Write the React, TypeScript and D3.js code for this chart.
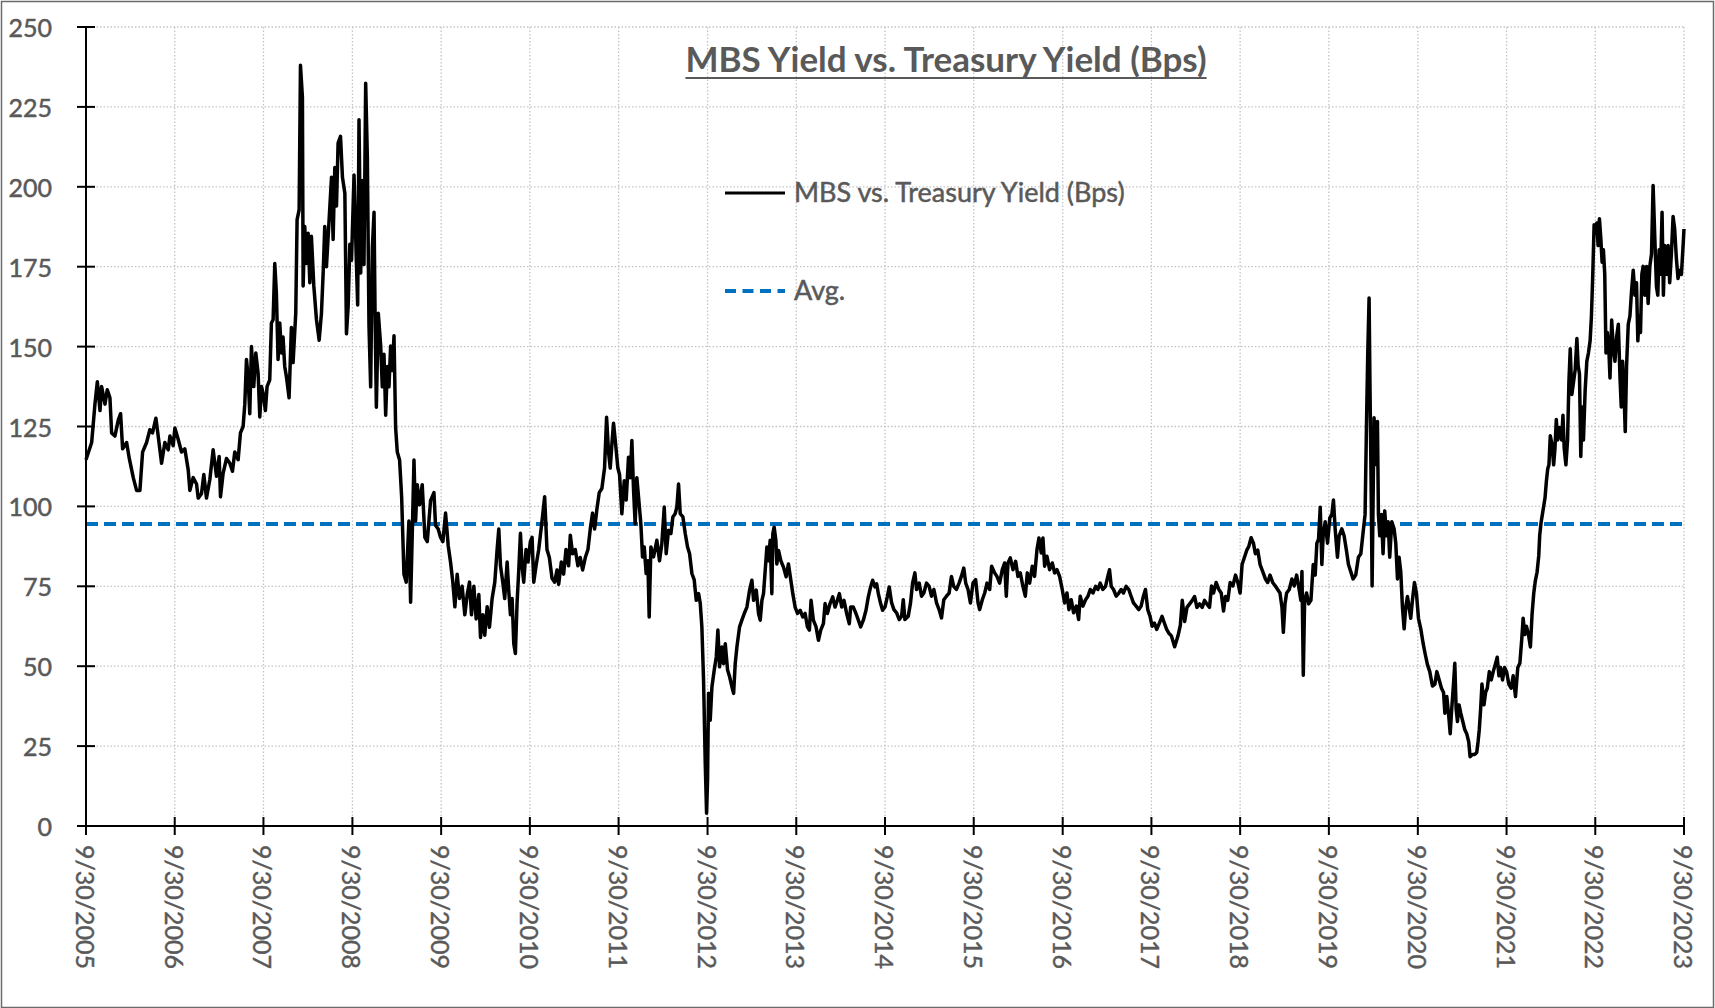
import React, { useEffect, useRef } from "react";
import * as d3 from "d3";

// tick labels
const yTicks = [0, 25, 50, 75, 100, 125, 150, 175, 200, 225, 250];
const xTickLabels = [
  "9/30/2005", "9/30/2006", "9/30/2007", "9/30/2008", "9/30/2009", "9/30/2010",
  "9/30/2011", "9/30/2012", "9/30/2013", "9/30/2014", "9/30/2015", "9/30/2016",
  "9/30/2017", "9/30/2018", "9/30/2019", "9/30/2020", "9/30/2021", "9/30/2022",
  "9/30/2023",
];

// average of the spread (bps)
const avgSpread = 94.5;

// [decimal year, spread in bps]
const spread2005to2008: [number, number][] = [
  [2005.745, 114.6], [2005.809, 120], [2005.846, 132], [2005.873, 139], [2005.903, 130], [2005.921, 137.5],
  [2005.959, 132], [2005.985, 136.5], [2006.015, 134], [2006.034, 123], [2006.071, 122], [2006.109, 127],
  [2006.135, 129], [2006.158, 118], [2006.203, 120], [2006.233, 115], [2006.278, 109], [2006.315, 105],
  [2006.353, 105], [2006.383, 117], [2006.428, 120], [2006.465, 124], [2006.495, 123], [2006.533, 127.6],
  [2006.559, 122], [2006.597, 113.5], [2006.634, 120], [2006.672, 117.7], [2006.691, 122], [2006.728, 119],
  [2006.747, 124.5], [2006.784, 121], [2006.822, 117], [2006.859, 118], [2006.897, 111.5], [2006.916, 105],
  [2006.953, 109], [2006.991, 107], [2007.01, 102.6], [2007.047, 104], [2007.073, 110], [2007.103, 102.6],
  [2007.141, 108.4], [2007.178, 117.7], [2007.216, 109.4], [2007.246, 115.6], [2007.261, 103], [2007.291, 110.4],
  [2007.329, 115], [2007.366, 113.5], [2007.396, 111], [2007.422, 117], [2007.46, 114.6], [2007.486, 123],
  [2007.516, 125], [2007.535, 132], [2007.554, 146], [2007.572, 140.6], [2007.591, 129], [2007.61, 150],
  [2007.636, 137.5], [2007.659, 148], [2007.685, 141.7], [2007.704, 128], [2007.723, 137.5], [2007.741, 135.4],
  [2007.767, 130], [2007.786, 137.5], [2007.816, 139.6], [2007.835, 157.4], [2007.854, 158.4], [2007.873, 176],
  [2007.891, 166.7], [2007.91, 146], [2007.929, 157.4], [2007.948, 148], [2007.966, 153], [2007.985, 143.8],
  [2008.004, 140.6], [2008.034, 134], [2008.06, 156], [2008.079, 145], [2008.109, 160.5], [2008.124, 189.7],
  [2008.147, 192.8], [2008.162, 238], [2008.184, 228], [2008.192, 169], [2008.21, 187.6], [2008.229, 176],
  [2008.248, 185.5], [2008.267, 170], [2008.285, 184.5], [2008.312, 169], [2008.342, 158.4], [2008.372, 152],
  [2008.398, 160.5], [2008.417, 173], [2008.435, 187.6], [2008.454, 175], [2008.484, 189.7], [2008.511, 203],
  [2008.529, 183.5], [2008.548, 206], [2008.567, 194], [2008.585, 213.7], [2008.612, 215.8], [2008.634, 203],
  [2008.661, 198], [2008.679, 154], [2008.698, 162.6], [2008.717, 182], [2008.736, 177],
];

const spread2008to2011: [number, number][] = [
  [2008.764, 203.7], [2008.79, 177], [2008.805, 163], [2008.82, 221], [2008.839, 173], [2008.857, 202],
  [2008.876, 175.7], [2008.895, 232.4], [2008.914, 208.8], [2008.932, 156.6], [2008.951, 137.4], [2008.97, 180.8],
  [2008.989, 192], [2009.0, 161.7], [2009.015, 131], [2009.037, 160.4], [2009.064, 150.2], [2009.082, 137.4],
  [2009.101, 147.6], [2009.12, 128.5], [2009.139, 143.8], [2009.157, 137.4], [2009.176, 150.2], [2009.195, 142.5],
  [2009.214, 153.4], [2009.232, 124.7], [2009.251, 117], [2009.277, 114.5], [2009.3, 103], [2009.326, 78.8],
  [2009.352, 76.3], [2009.382, 95.4], [2009.401, 70], [2009.42, 91.6], [2009.439, 114.5], [2009.457, 95.4],
  [2009.476, 106.8], [2009.502, 100.5], [2009.532, 106.8], [2009.562, 90.3], [2009.589, 89], [2009.626, 101.8],
  [2009.664, 104.3], [2009.682, 94.1], [2009.712, 92.9], [2009.739, 90.3], [2009.765, 89], [2009.795, 97.9],
  [2009.825, 87.7], [2009.851, 82.6], [2009.877, 76.3], [2009.9, 68.6], [2009.926, 78.8], [2009.952, 71.2],
  [2009.982, 75], [2010.012, 66.1], [2010.039, 72.4], [2010.065, 76.3], [2010.087, 66.1], [2010.114, 75],
  [2010.14, 64.8], [2010.17, 72.4], [2010.189, 59], [2010.215, 66.1], [2010.237, 59.7], [2010.264, 68.6],
  [2010.29, 62.2], [2010.32, 71.2], [2010.35, 76.3], [2010.376, 86.5], [2010.395, 92.9], [2010.414, 81.4],
  [2010.44, 76.3], [2010.462, 71.2], [2010.489, 82.6], [2010.507, 73.7], [2010.526, 66.1], [2010.545, 71.2],
  [2010.564, 57], [2010.582, 54], [2010.601, 69.8], [2010.62, 80], [2010.639, 91.6], [2010.657, 81.4],
  [2010.676, 76.3], [2010.702, 86.5], [2010.725, 82.6], [2010.751, 89], [2010.77, 90.3], [2010.789, 76.3],
  [2010.815, 81.4], [2010.845, 86.5], [2010.882, 95.4], [2010.912, 103], [2010.938, 86.5], [2010.965, 84],
  [2010.995, 77.5], [2011.025, 76.3], [2011.051, 80.1], [2011.07, 75.6], [2011.1, 82.6], [2011.126, 78.8],
  [2011.152, 86.5], [2011.182, 81.4], [2011.201, 91], [2011.227, 85.2], [2011.257, 86.5], [2011.287, 81.4],
  [2011.313, 84], [2011.34, 80.1], [2011.37, 84], [2011.4, 86.5], [2011.426, 92.9], [2011.452, 97.9],
  [2011.475, 92.9], [2011.501, 99.2], [2011.527, 104.3], [2011.557, 105.6], [2011.587, 112], [2011.61, 127.9],
  [2011.632, 117], [2011.651, 112], [2011.67, 119.6], [2011.688, 126], [2011.707, 120.9], [2011.737, 112],
];

const spread2011to2014: [number, number][] = [
  [2011.756, 110], [2011.782, 97.7], [2011.809, 108], [2011.831, 102], [2011.857, 115.4], [2011.876, 109],
  [2011.895, 120.6], [2011.914, 105], [2011.932, 94.6], [2011.951, 109], [2011.97, 103], [2011.996, 94.6],
  [2012.015, 84.2], [2012.034, 87.3], [2012.056, 79], [2012.075, 83], [2012.09, 65.4], [2012.109, 87.3],
  [2012.139, 84.2], [2012.176, 89.4], [2012.206, 83], [2012.232, 88.3], [2012.259, 99.8], [2012.281, 85.2],
  [2012.307, 92.5], [2012.334, 91.5], [2012.356, 96.7], [2012.382, 97.7], [2012.401, 99.8], [2012.42, 107],
  [2012.439, 97.7], [2012.469, 96.7], [2012.495, 91.5], [2012.521, 87.3], [2012.544, 85.2], [2012.57, 79],
  [2012.596, 77], [2012.619, 70.6], [2012.645, 72.7], [2012.664, 69.6], [2012.682, 62.3], [2012.701, 45.6],
  [2012.72, 19.6], [2012.735, 4], [2012.746, 14.4], [2012.757, 41.5], [2012.776, 33.1], [2012.795, 43.5],
  [2012.821, 48.8], [2012.844, 52.9], [2012.862, 61.3], [2012.881, 49.8], [2012.907, 56], [2012.926, 50.8],
  [2012.945, 57], [2012.971, 48.8], [2012.994, 46.7], [2013.02, 43.5], [2013.039, 41.5], [2013.057, 50.8],
  [2013.076, 56], [2013.106, 62.3], [2013.132, 64.4], [2013.159, 66.5], [2013.189, 68.5], [2013.219, 73.8],
  [2013.245, 76.9], [2013.264, 70.6], [2013.294, 73.8], [2013.32, 66.5], [2013.339, 64.4], [2013.358, 70.6],
  [2013.376, 72.7], [2013.395, 80], [2013.414, 87.3], [2013.432, 83], [2013.451, 89.4], [2013.47, 72.7],
  [2013.481, 91.5], [2013.496, 93.5], [2013.515, 89.4], [2013.526, 82], [2013.545, 86.2], [2013.571, 83],
  [2013.601, 81], [2013.631, 78], [2013.657, 82], [2013.684, 76.9], [2013.706, 72.7], [2013.732, 68.5],
  [2013.759, 66.5], [2013.789, 67.5], [2013.819, 65.4], [2013.845, 66.5], [2013.871, 62.3], [2013.893, 61.3],
  [2013.912, 70.6], [2013.938, 64.4], [2013.968, 62.3], [2013.995, 58.1], [2014.021, 61.3], [2014.051, 63.3],
  [2014.07, 69.6], [2014.096, 66.5], [2014.126, 69.6], [2014.156, 71.7], [2014.182, 68.5], [2014.208, 70.6],
  [2014.231, 72.7], [2014.257, 68.5], [2014.283, 70.6], [2014.313, 66.5], [2014.343, 63.3], [2014.358, 68.5],
  [2014.388, 68.5], [2014.418, 66.5], [2014.445, 64.4], [2014.471, 62.3], [2014.501, 64.4], [2014.531, 67.5],
  [2014.557, 71.7], [2014.583, 74.8], [2014.606, 76.9], [2014.632, 74.8], [2014.651, 75.8], [2014.67, 72.7],
  [2014.696, 69.6], [2014.718, 67.5], [2014.745, 68.5], [2014.771, 71.7], [2014.793, 74.8],
];

const spread2014to2017: [number, number][] = [
  [2014.82, 69.8], [2014.846, 67.7], [2014.876, 66.7], [2014.906, 64.6], [2014.932, 65.6], [2014.951, 70.8],
  [2014.97, 64.6], [2015.007, 65.6], [2015.033, 69.8], [2015.056, 76], [2015.082, 79.2], [2015.101, 74],
  [2015.131, 76], [2015.157, 71.9], [2015.183, 72.9], [2015.213, 76], [2015.243, 75], [2015.269, 71.9],
  [2015.296, 74], [2015.326, 69.8], [2015.355, 67.7], [2015.382, 65.1], [2015.408, 70.8], [2015.438, 71.9],
  [2015.468, 72.9], [2015.494, 78.1], [2015.52, 75], [2015.55, 74], [2015.58, 76], [2015.606, 78.1],
  [2015.633, 80.7], [2015.655, 76], [2015.681, 74], [2015.708, 69.8], [2015.737, 76], [2015.767, 77.1],
  [2015.794, 69.8], [2015.812, 67.7], [2015.842, 70.8], [2015.869, 72.9], [2015.895, 76], [2015.925, 74],
  [2015.947, 81.3], [2015.981, 79.2], [2016.007, 78.1], [2016.037, 76], [2016.067, 80.2], [2016.093, 82.3],
  [2016.112, 71.9], [2016.131, 82.3], [2016.157, 83.9], [2016.187, 80.2], [2016.217, 82.8], [2016.243, 78.1],
  [2016.269, 79.2], [2016.299, 75], [2016.326, 71.9], [2016.348, 79.2], [2016.374, 76], [2016.404, 81.3],
  [2016.43, 78.1], [2016.457, 86.5], [2016.479, 90.1], [2016.505, 85.4], [2016.524, 90.1], [2016.543, 81.3],
  [2016.569, 84.4], [2016.599, 80.2], [2016.629, 82.3], [2016.655, 79.2], [2016.681, 80.2], [2016.711, 78.1],
  [2016.741, 74], [2016.767, 69.8], [2016.794, 72.9], [2016.816, 67.7], [2016.842, 70.8], [2016.869, 66.7],
  [2016.899, 68.8], [2016.925, 64.6], [2016.943, 71.9], [2016.973, 68.8], [2017.003, 70.8], [2017.03, 71.9],
  [2017.056, 74], [2017.086, 72.9], [2017.116, 75], [2017.142, 74], [2017.168, 76], [2017.198, 74],
  [2017.228, 75], [2017.254, 78.1], [2017.273, 80.2], [2017.292, 75], [2017.318, 74], [2017.348, 71.9],
  [2017.378, 72.9], [2017.404, 74], [2017.43, 72.9], [2017.46, 75], [2017.49, 74], [2017.516, 71.9],
  [2017.543, 69.8], [2017.573, 68.8], [2017.603, 67.7], [2017.629, 68.8], [2017.655, 71.9], [2017.678, 74],
  [2017.704, 67.7], [2017.73, 65.6], [2017.753, 62.5], [2017.779, 63.5], [2017.805, 61.5], [2017.835, 63.5],
  [2017.865, 65.6], [2017.891, 63.5], [2017.917, 61.5], [2017.94, 60.4],
];

const spread2017to2020: [number, number][] = [
  [2017.97, 59.5], [2018.007, 56.1], [2018.045, 59.5], [2018.071, 62.8], [2018.093, 70.6], [2018.12, 64],
  [2018.146, 68.4], [2018.176, 69.5], [2018.206, 70.6], [2018.232, 71.8], [2018.258, 68.4], [2018.288, 69.5],
  [2018.318, 68.4], [2018.344, 70.6], [2018.37, 69.5], [2018.4, 68.4], [2018.423, 75.1], [2018.445, 72.9],
  [2018.475, 76.2], [2018.505, 74], [2018.532, 72.9], [2018.558, 67.3], [2018.58, 71.8], [2018.606, 70.6],
  [2018.633, 76.2], [2018.663, 75.1], [2018.693, 78.5], [2018.719, 76.2], [2018.745, 72.9], [2018.767, 81.8],
  [2018.794, 84.1], [2018.82, 86.3], [2018.842, 87.4], [2018.869, 90.2], [2018.895, 88.5], [2018.917, 85.2],
  [2018.944, 86.3], [2018.97, 81.8], [2019.0, 79.6], [2019.03, 77.3], [2019.056, 76.2], [2019.082, 78.5],
  [2019.112, 76.2], [2019.142, 75.1], [2019.168, 74], [2019.194, 72.9], [2019.217, 68.4], [2019.232, 60.6],
  [2019.251, 69.5], [2019.269, 72.9], [2019.299, 74], [2019.329, 77.3], [2019.355, 75.1], [2019.382, 78.5],
  [2019.404, 75.1], [2019.43, 70.6], [2019.442, 79.6], [2019.457, 47.2], [2019.472, 70.6], [2019.494, 72.9],
  [2019.517, 69.5], [2019.543, 70.6], [2019.569, 81.8], [2019.591, 78.5], [2019.61, 88.5], [2019.629, 89.7],
  [2019.648, 99.7], [2019.666, 81.8], [2019.681, 90.8], [2019.704, 95.2], [2019.73, 88.5], [2019.756, 96.4],
  [2019.779, 97.5], [2019.797, 102], [2019.816, 93], [2019.842, 84.1], [2019.861, 90.8], [2019.891, 93],
  [2019.917, 90.8], [2019.943, 86.3], [2019.966, 81.8], [2019.992, 79.6], [2020.018, 77.3], [2020.048, 78.5],
  [2020.078, 84.1], [2020.105, 85.2], [2020.131, 91.9], [2020.153, 97.5], [2020.168, 124.3], [2020.183, 147.8],
  [2020.198, 165.2], [2020.209, 135.5], [2020.221, 106.4], [2020.232, 75.1], [2020.243, 102], [2020.254, 127.7],
  [2020.273, 113.1], [2020.292, 126.6], [2020.303, 97.5], [2020.318, 90.8], [2020.337, 97.5], [2020.355, 85.2],
  [2020.374, 98.6], [2020.393, 90.8], [2020.412, 95.2], [2020.43, 84.1], [2020.453, 95.2], [2020.479, 93],
  [2020.498, 88.5], [2020.517, 77.3], [2020.535, 84.1], [2020.554, 79.6], [2020.573, 68.4], [2020.592, 61.7],
  [2020.61, 68.4], [2020.629, 71.8], [2020.648, 68.4], [2020.666, 65], [2020.685, 70.6], [2020.708, 76.2],
  [2020.73, 72.9], [2020.753, 65], [2020.779, 61.7], [2020.805, 57.2], [2020.828, 53.9], [2020.854, 50.5],
  [2020.88, 48.3], [2020.91, 43.8],
];

const spread2020to2023: [number, number][] = [
  [2020.938, 44.4], [2020.96, 48.3], [2020.986, 45.7], [2021.012, 43.1], [2021.035, 41.8], [2021.05, 35.3],
  [2021.072, 40.5], [2021.095, 34], [2021.11, 28.9], [2021.124, 35.3], [2021.147, 44.4], [2021.162, 50.9],
  [2021.177, 36.6], [2021.192, 32.7], [2021.21, 37.9], [2021.229, 35.3], [2021.252, 32.7], [2021.274, 30.2],
  [2021.296, 28.9], [2021.319, 26.3], [2021.334, 21.7], [2021.36, 22.4], [2021.386, 22.4], [2021.409, 23],
  [2021.424, 26.3], [2021.438, 30.2], [2021.453, 36.6], [2021.468, 44.4], [2021.491, 37.9], [2021.509, 41.8],
  [2021.528, 43.1], [2021.551, 48.3], [2021.573, 45.7], [2021.595, 48.3], [2021.622, 50.9], [2021.64, 52.8],
  [2021.659, 47], [2021.678, 49.6], [2021.7, 45.7], [2021.723, 49.6], [2021.745, 48.3], [2021.771, 44.4],
  [2021.797, 43.1], [2021.82, 47], [2021.846, 40.5], [2021.872, 49.6], [2021.895, 50.9], [2021.917, 58.6],
  [2021.932, 65], [2021.951, 59.9], [2021.969, 62.5], [2021.992, 59.9], [2022.014, 56], [2022.033, 66.4],
  [2022.052, 72.9], [2022.07, 76.8], [2022.089, 79.4], [2022.108, 84.5], [2022.119, 91], [2022.134, 94.9],
  [2022.149, 97.5], [2022.164, 100.1], [2022.179, 102.7], [2022.194, 107.8], [2022.209, 111.7], [2022.223, 113],
  [2022.238, 122.1], [2022.257, 119.5], [2022.276, 113], [2022.291, 118.2], [2022.306, 127.2], [2022.321, 120.8],
  [2022.343, 124.7], [2022.366, 120.8], [2022.381, 128.5], [2022.395, 118.2], [2022.414, 113], [2022.433, 120.8],
  [2022.448, 138.9], [2022.463, 149.3], [2022.481, 135], [2022.5, 138.9], [2022.519, 142.8], [2022.538, 152.5],
  [2022.552, 144.1], [2022.567, 141.5], [2022.582, 115.6], [2022.597, 131.1], [2022.612, 120.8], [2022.631, 136.3],
  [2022.65, 145.4], [2022.668, 148], [2022.687, 151.8], [2022.702, 159.6], [2022.717, 172.6], [2022.732, 188.1],
  [2022.747, 185.5], [2022.762, 188.7], [2022.777, 181.6], [2022.792, 190], [2022.807, 184.2], [2022.822, 176.4],
  [2022.837, 180.3], [2022.852, 172.6], [2022.866, 148], [2022.881, 154.4], [2022.896, 150.5], [2022.911, 140.2],
  [2022.93, 158.3], [2022.949, 149.3], [2022.967, 145.4], [2022.986, 153.1], [2023.005, 157], [2023.024, 140.2],
  [2023.038, 131.1], [2023.053, 145.4], [2023.068, 136.3], [2023.083, 123.4], [2023.098, 144.1], [2023.117, 157],
  [2023.136, 159.6], [2023.154, 167.4], [2023.173, 173.9], [2023.192, 166.1], [2023.21, 170], [2023.225, 151.8],
  [2023.24, 159.6], [2023.255, 154.4], [2023.27, 172.6], [2023.285, 175.1], [2023.304, 166.1], [2023.323, 175.1],
  [2023.341, 163.5], [2023.36, 175.1], [2023.379, 179], [2023.397, 200.4], [2023.416, 184.2], [2023.435, 168.7],
  [2023.45, 166.1], [2023.465, 180.3], [2023.48, 172.6], [2023.498, 192], [2023.513, 166.1], [2023.528, 181.6],
  [2023.547, 172.6], [2023.566, 181.6], [2023.584, 170], [2023.603, 179], [2023.622, 190.7], [2023.64, 186.8],
  [2023.659, 177.7], [2023.678, 171.3], [2023.697, 173.9], [2023.716, 172.6], [2023.735, 181.6], [2023.745, 186.8],
];

// decimal year -> Date (UTC)
const toDate = (t: number) => {
  const yr = Math.floor(t);
  const start = Date.UTC(yr, 0, 1);
  const end = Date.UTC(yr + 1, 0, 1);
  return new Date(start + (t - yr) * (end - start));
};

export default function App() {
  const ref = useRef<SVGSVGElement>(null);

  useEffect(() => {
    draw();
  }, []);

  let draw = () => {
    const svg = d3.select(ref.current);
    svg.selectAll("*").remove();

    const width = 1715;
    const height = 1008;
    const margin = { left: 86, top: 27, right: 31, bottom: 182 };
    const font = "Lato, 'Open Sans', sans-serif";
    const grey = "#595959";
    const blue = "#0070C0";

    const data = [
      ...spread2005to2008,
      ...spread2008to2011,
      ...spread2011to2014,
      ...spread2014to2017,
      ...spread2017to2020,
      ...spread2020to2023,
    ].map(([t, v]) => ({ date: toDate(t), value: v }));

    const parse = d3.utcParse("%m/%d/%Y");
    const tickDates = xTickLabels.map((d) => parse(d) as Date);

    const x = d3
      .scaleUtc()
      .domain([tickDates[0], tickDates[tickDates.length - 1]])
      .range([margin.left, width - margin.right]);
    const y = d3
      .scaleLinear()
      .domain([0, 250])
      .range([height - margin.bottom, margin.top]);

    const x0 = x.range()[0];
    const x1 = x.range()[1];
    const y0 = y(0);

    svg
      .append("rect")
      .attr("width", width)
      .attr("height", height)
      .attr("fill", "#ffffff");

    // outer frame
    svg
      .append("rect")
      .attr("x", 1.5)
      .attr("y", 1.5)
      .attr("width", width - 3)
      .attr("height", height - 2)
      .attr("fill", "none")
      .attr("stroke", "#6b6b6b")
      .attr("stroke-width", 1.5);

    // dotted grid
    svg
      .append("g")
      .selectAll("line")
      .data(yTicks.filter((d) => d > 0))
      .join("line")
      .attr("x1", x0)
      .attr("x2", x1)
      .attr("y1", (d) => y(d))
      .attr("y2", (d) => y(d))
      .attr("stroke", "#c4c4c4")
      .attr("stroke-width", 1.3)
      .attr("stroke-dasharray", "1.5,2");

    svg
      .append("g")
      .selectAll("line")
      .data(tickDates.slice(1))
      .join("line")
      .attr("x1", (d) => x(d))
      .attr("x2", (d) => x(d))
      .attr("y1", y(250))
      .attr("y2", y0)
      .attr("stroke", "#c4c4c4")
      .attr("stroke-width", 1.3)
      .attr("stroke-dasharray", "1.5,2");

    // average line
    svg
      .append("line")
      .attr("x1", x0)
      .attr("x2", x1)
      .attr("y1", y(avgSpread))
      .attr("y2", y(avgSpread))
      .attr("stroke", blue)
      .attr("stroke-width", 4)
      .attr("stroke-dasharray", "12,6");

    // spread line
    const line = d3
      .line<{ date: Date; value: number }>()
      .x((d) => x(d.date))
      .y((d) => y(d.value));

    svg
      .append("path")
      .datum(data)
      .attr("d", line)
      .attr("fill", "none")
      .attr("stroke", "#000000")
      .attr("stroke-width", 3.5)
      .attr("stroke-linejoin", "round");

    // axes
    svg
      .append("line")
      .attr("x1", x0)
      .attr("x2", x0)
      .attr("y1", y(250))
      .attr("y2", y0)
      .attr("stroke", "#000")
      .attr("stroke-width", 2);
    svg
      .append("line")
      .attr("x1", x0)
      .attr("x2", x1)
      .attr("y1", y0)
      .attr("y2", y0)
      .attr("stroke", "#000")
      .attr("stroke-width", 2);

    svg
      .append("g")
      .selectAll("line")
      .data(yTicks)
      .join("line")
      .attr("x1", x0 - 9)
      .attr("x2", x0 + 9)
      .attr("y1", (d) => y(d))
      .attr("y2", (d) => y(d))
      .attr("stroke", "#000")
      .attr("stroke-width", 2);

    svg
      .append("g")
      .selectAll("line")
      .data(tickDates)
      .join("line")
      .attr("x1", (d) => x(d))
      .attr("x2", (d) => x(d))
      .attr("y1", y0 - 9)
      .attr("y2", y0 + 9)
      .attr("stroke", "#000")
      .attr("stroke-width", 2);

    svg
      .append("g")
      .selectAll("text")
      .data(yTicks)
      .join("text")
      .attr("x", 52)
      .attr("y", (d) => y(d))
      .attr("text-anchor", "end")
      .attr("dominant-baseline", "central")
      .attr("font-family", font)
      .attr("font-size", 25)
      .attr("fill", grey)
      .attr("stroke", grey)
      .attr("stroke-width", 0.5)
      .text((d) => d);

    svg
      .append("g")
      .selectAll("text")
      .data(tickDates)
      .join("text")
      .attr("transform", (d) => `translate(${x(d)}, ${y0 + 19}) rotate(90)`)
      .attr("text-anchor", "start")
      .attr("dominant-baseline", "central")
      .attr("font-family", font)
      .attr("font-size", 25)
      .attr("fill", grey)
      .attr("stroke", grey)
      .attr("stroke-width", 0.4)
      .text((d, i) => xTickLabels[i]);

    // title
    const title = svg
      .append("text")
      .attr("x", 946)
      .attr("y", 72)
      .attr("text-anchor", "middle")
      .attr("font-family", font)
      .attr("font-weight", 700)
      .attr("font-size", 35)
      .attr("fill", grey)
      .text("MBS Yield vs. Treasury Yield (Bps)");
    const tb = (title.node() as SVGTextElement).getBBox();
    svg
      .append("line")
      .attr("x1", tb.x)
      .attr("x2", tb.x + tb.width)
      .attr("y1", 78)
      .attr("y2", 78)
      .attr("stroke", grey)
      .attr("stroke-width", 2.2);

    // legend
    const legend = svg.append("g");
    legend
      .append("line")
      .attr("x1", 725)
      .attr("x2", 785)
      .attr("y1", 193)
      .attr("y2", 193)
      .attr("stroke", "#000")
      .attr("stroke-width", 3);
    legend
      .append("text")
      .attr("x", 794)
      .attr("y", 202)
      .attr("font-family", font)
      .attr("font-size", 27)
      .attr("fill", grey)
      .attr("stroke", grey)
      .attr("stroke-width", 0.5)
      .text("MBS vs. Treasury Yield (Bps)");
    legend
      .append("line")
      .attr("x1", 725)
      .attr("x2", 785)
      .attr("y1", 291)
      .attr("y2", 291)
      .attr("stroke", blue)
      .attr("stroke-width", 4)
      .attr("stroke-dasharray", "11,6.5");
    legend
      .append("text")
      .attr("x", 794)
      .attr("y", 300)
      .attr("font-family", font)
      .attr("font-size", 27)
      .attr("fill", grey)
      .attr("stroke", grey)
      .attr("stroke-width", 0.5)
      .text("Avg.");
  };

  return (
    <svg
      ref={ref}
      width={1715}
      height={1008}
      style={{ position: "absolute", left: 0, top: 0, display: "block" }}
    />
  );
}
